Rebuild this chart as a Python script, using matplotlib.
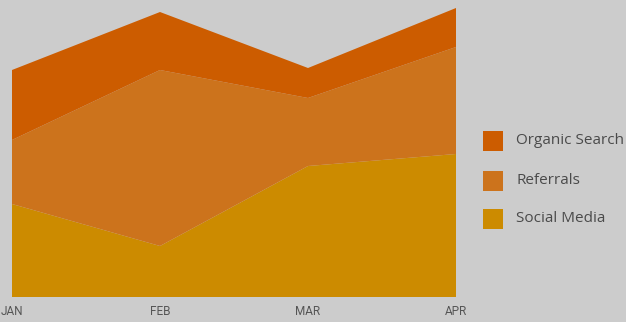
import matplotlib
matplotlib.use("Agg")
import matplotlib.pyplot as plt
from matplotlib.patches import Rectangle

months = ["JAN", "FEB", "MAR", "APR"]
social_media = [93, 51, 131, 143]
referrals = [64, 176, 68, 107]
organic_search = [70, 58, 30, 39]
series_names = ["Social Media", "Referrals", "Organic Search"]
colors = ["#cc8b00", "#cc731c", "#cc5c00"]

bg = "#cccccc"
plt.rcParams['font.family'] = ['Roboto', 'DejaVu Sans']

fig = plt.figure(figsize=(6.26, 3.22), dpi=100, facecolor=bg)
W, H = 626, 322
ax = fig.add_axes([12 / W, 25 / H, 444 / W, 297 / H])
ax.set_facecolor(bg)
x = list(range(len(months)))
ax.stackplot(x, social_media, referrals, organic_search, colors=colors, linewidth=0)
ax.set_xlim(0, 3)
ax.set_ylim(0, 297)
for s in ax.spines.values():
    s.set_visible(False)
ax.set_yticks([])
ax.set_xticks(x)
ax.set_xticklabels(months, fontsize=8.5, color="#555555")
ax.tick_params(axis='x', length=0, pad=6)

# legend (drawn manually, top to bottom)
leg_items = list(zip(series_names, colors))[::-1]
ys = [141, 181, 219]
for (name, c), yc in zip(leg_items, ys):
    fig.patches.append(Rectangle((483 / W, (H - yc - 10) / H), 20 / W, 20 / H,
                                 transform=fig.transFigure, facecolor=c, edgecolor='none'))
    fig.text(516 / W, (H - yc) / H, name, fontsize=11, color="#4a4a4a", va='center', ha='left',
             family=['Open Sans', 'DejaVu Sans'])

fig.savefig("out.png", dpi=100, facecolor=bg)
